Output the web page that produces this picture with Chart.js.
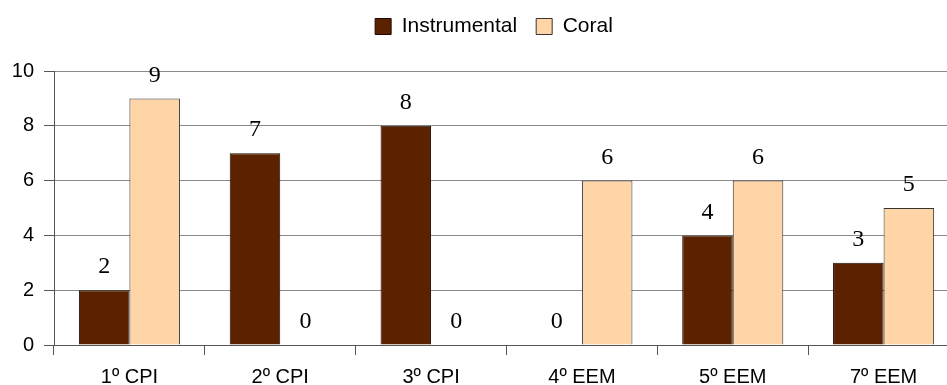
<!DOCTYPE html>
<html>
<head>
<meta charset="utf-8">
<script src="https://cdn.jsdelivr.net/npm/chart.js@4/dist/chart.umd.min.js"></script>
<style>
  html, body { margin: 0; padding: 0; background: #fff; overflow: hidden; }
  #wrap { width: 947px; height: 385px; overflow: hidden; position: relative; }
  canvas { position: absolute; left: 0; top: 0; }
</style>
</head>
<body>
<div id="wrap"><canvas id="c" width="988" height="385"></canvas></div>
<script>
// Course groups and participant counts per ensemble type
const categories = ['1º CPI', '2º CPI', '3º CPI', '4º EEM', '5º EEM', '7º EEM'];
const instrumental = [2, 7, 8, 0, 4, 3];
const coral = [9, 0, 0, 6, 6, 5];
const yTicks = [0, 2, 4, 6, 8, 10];

// Writes each bar's value above it
const valueLabels = {
  id: 'valueLabels',
  afterDatasetsDraw(chart) {
    const ctx = chart.ctx;
    ctx.save();
    ctx.font = "24px 'Liberation Serif', 'Times New Roman', serif";
    ctx.fillStyle = '#000';
    ctx.textAlign = 'center';
    ctx.textBaseline = 'middle';
    chart.data.datasets.forEach((ds, i) => {
      chart.getDatasetMeta(i).data.forEach((bar, j) => {
        ctx.fillText(String(ds.data[j]), bar.x, bar.y - 23);
      });
    });
    ctx.restore();
  }
};

new Chart(document.getElementById('c'), {
  type: 'bar',
  data: {
    labels: categories,
    datasets: [
      { label: 'Instrumental', data: instrumental, backgroundColor: '#5C2200', borderColor: '#1a0a00', borderWidth: 1 },
      { label: 'Coral', data: coral, backgroundColor: '#FFD4A6', borderColor: '#333', borderWidth: 1 }
    ]
  },
  options: {
    responsive: false,
    animation: false,
    devicePixelRatio: 1,
    layout: { padding: { top: -3 } },
    datasets: { bar: { categoryPercentage: 0.67, barPercentage: 1 } },
    plugins: {
      legend: {
        position: 'top',
        labels: {
          boxWidth: 16, boxHeight: 16, padding: 19,
          color: '#000',
          font: { family: "'Liberation Sans', Arial, sans-serif", size: 21 }
        }
      },
      // empty title placed under the legend as a gap above the plot
      title: {
        display: true, text: '', position: 'top', weight: 500,
        padding: 0, font: { size: 20 }
      },
      tooltip: { enabled: false }
    },
    scales: {
      x: {
        grid: { drawOnChartArea: false, tickLength: 10, color: '#555' },
        border: { color: '#555' },
        ticks: { color: '#000', padding: 10, maxRotation: 0, font: { family: "'Liberation Sans', Arial, sans-serif", size: 20 } },
        afterFit(s) { s.height = 40; }
      },
      y: {
        min: 0, max: 10,
        afterBuildTicks(s) { s.ticks = yTicks.map(v => ({ value: v })); },
        grid: { color: '#8a8a8a', tickLength: 10, tickColor: '#555' },
        border: { color: '#555' },
        ticks: { color: '#000', padding: 10, font: { family: "'Liberation Sans', Arial, sans-serif", size: 20 } },
        afterFit(s) { s.width = 54; }
      },
      spacer: {
        position: 'right',
        grid: { display: false, drawTicks: false },
        border: { display: false },
        ticks: { display: false },
        afterFit(s) { s.width = 29; }
      }
    }
  },
  plugins: [valueLabels]
});
</script>
</body>
</html>
